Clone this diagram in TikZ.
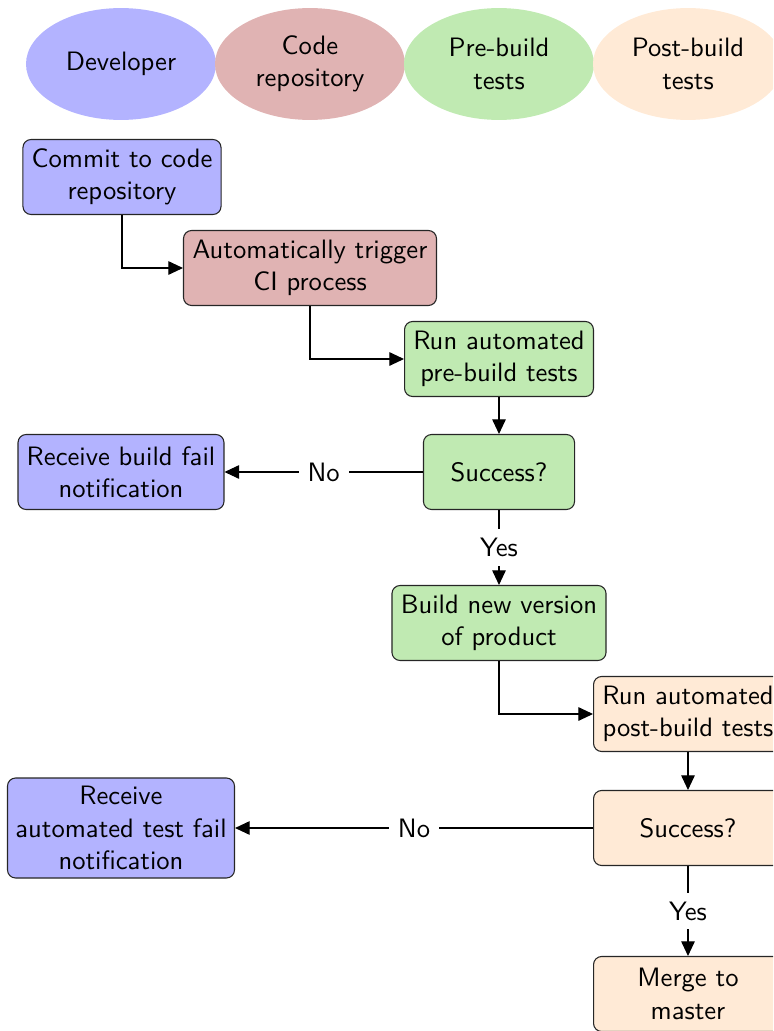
\documentclass[tikz,border=0pt]{standalone}
\usetikzlibrary{shapes.geometric,arrows.meta}
\definecolor{devblue}{RGB}{179,179,255}
\definecolor{repored}{RGB}{224,179,179}
\definecolor{pregreen}{RGB}{192,234,178}
\definecolor{postorange}{RGB}{255,234,214}
\tikzset{
  lane/.style={ellipse, draw=none, minimum width=70.3pt, minimum height=41.4pt, inner sep=0pt, align=center},
  box/.style={draw=black!85, rounded corners=3pt, align=center, minimum height=27.75pt, inner sep=2pt},
  arr/.style={-{Triangle[length=5.4pt,width=5pt]}, draw=black},
  lbl/.style={fill=white, midway},
}
\begin{document}
\begin{tikzpicture}[x=0.37pt,y=-0.37pt,font=\fontsize{9.85}{12}\sffamily]
\useasboundingbox (0,0) rectangle (773,1031);
\clip (0,0) rectangle (773,1031);
% lanes
\node[lane, fill=devblue] (ld) at (121,64) {Developer};
\node[lane, fill=repored] (lr) at (310,64) {Code\\repository};
\node[lane, fill=pregreen] (lp) at (499,64) {Pre-build\\tests};
\node[lane, fill=postorange] (lq) at (688,64) {Post-build\\tests};
% boxes
\node[box, fill=devblue, minimum width=73.3pt] (commit) at (122,177) {Commit to code\\repository};
\node[box, fill=repored, minimum width=93.6pt] (trigger) at (310,268) {Automatically trigger\\CI process};
\node[box, fill=pregreen, minimum width=69.9pt] (pretest) at (499,359) {Run automated\\pre-build tests};
\node[box, fill=pregreen, minimum width=55.9pt] (succ1) at (499,472) {Success?};
\node[box, fill=devblue, minimum width=76.2pt] (fail1) at (121,472) {Receive build fail\\notification};
\node[box, fill=pregreen, minimum width=79.2pt] (build) at (499,623) {Build new version\\of product};
\node[box, fill=postorange, minimum width=69.9pt] (posttest) at (688,714) {Run automated\\post-build tests};
\node[box, fill=postorange, minimum width=69.9pt] (succ2) at (688,828) {Success?};
\node[box, fill=devblue, minimum width=84pt, minimum height=37pt] (fail2) at (121,828) {Receive\\automated test fail\\notification};
\node[box, fill=postorange, minimum width=69.9pt] (merge) at (688,994) {Merge to\\master};
% connectors
\draw[arr] (commit.south) |- (trigger.west);
\draw[arr] (trigger.south) |- (pretest.west);
\draw[arr] (pretest.south) -- (succ1.north);
\draw[arr] (succ1.west) -- node[lbl] {No} (fail1.east);
\draw[arr] (succ1.south) -- node[lbl] {Yes} (build.north);
\draw[arr] (build.south) |- (posttest.west);
\draw[arr] (posttest.south) -- (succ2.north);
\draw[arr] (succ2.west) -- node[lbl] {No} (fail2.east);
\draw[arr] (succ2.south) -- node[lbl] {Yes} (merge.north);
\end{tikzpicture}
\end{document}
